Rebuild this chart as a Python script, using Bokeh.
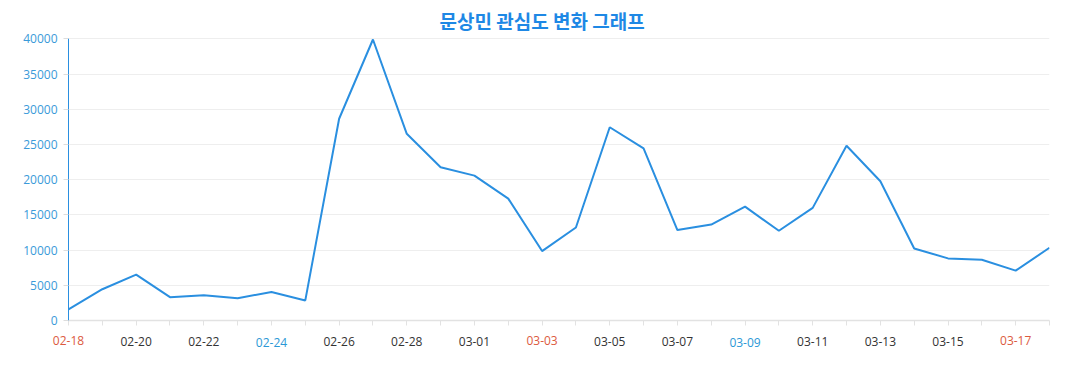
from bokeh.plotting import figure
from bokeh.models import Range1d, FixedTicker, NumeralTickFormatter, LinearAxis, Label
from bokeh.embed import file_html
from bokeh.resources import INLINE

title_text = "문상민 관심도 변화 그래프"
dates = ["02-18", "02-19", "02-20", "02-21", "02-22", "02-23", "02-24", "02-25",
         "02-26", "02-27", "02-28", "02-29", "03-01", "03-02", "03-03", "03-04",
         "03-05", "03-06", "03-07", "03-08", "03-09", "03-10", "03-11", "03-12",
         "03-13", "03-14", "03-15", "03-16", "03-17", "03-18"]
values = [1580, 4440, 6520, 3310, 3600, 3170, 4060, 2850,
          28650, 39900, 26510, 21750, 20570, 17300, 9860, 13210,
          27440, 24430, 12840, 13630, 16170, 12740, 15990, 24820,
          19780, 10230, 8820, 8630, 7080, 10330]
red_dates = ["02-18", "03-03", "03-17"]
blue_dates = ["02-24", "03-09"]
y_ticks = [0, 5000, 10000, 15000, 20000, 25000, 30000, 35000, 40000]

FONT = "Open Sans"
LINE_COLOR = "#2a8fe0"
RED = "#dc5a3e"
BLUE = "#2b98d6"
DARK = "#333333"

idx = list(range(len(dates)))
shown = [d for i, d in enumerate(dates) if i % 2 == 0]

# layout (pixels): frame 4..320; value 40000 at 38.3, value 0 at frame bottom
Y_MAX = y_ticks[-1]
FRAME_TOP, FRAME_BOTTOM, PX_TOP = 4, 320, 38.3
y_high = Y_MAX * (FRAME_BOTTOM - FRAME_TOP) / (FRAME_BOTTOM - PX_TOP)

p = figure(width=1077, height=390, output_backend="svg", toolbar_location=None,
           x_range=Range1d(0, len(dates) - 1), y_range=Range1d(0, y_high),
           min_border_left=68, min_border_right=28, min_border_top=FRAME_TOP,
           min_border_bottom=390 - FRAME_BOTTOM)
p.outline_line_color = None
p.background_fill_color = "white"
p.border_fill_color = "white"

p.line(idx, values, line_color=LINE_COLOR, line_width=2)

# title
p.add_layout(Label(x=14.0, y=Y_MAX, y_offset=PX_TOP - 20, text=title_text,
                   text_align="center", text_baseline="middle",
                   text_font="Noto Sans CJK KR", text_font_style="bold",
                   text_font_size="19px", text_color="#1e88e5"))


def style_labels(ax, color, keep):
    ax.ticker = FixedTicker(ticks=idx)
    ax.major_label_overrides = {i: (d if d in keep else "") for i, d in zip(idx, dates)}
    ax.minor_tick_line_color = None
    ax.major_label_text_color = color
    ax.major_label_text_font = FONT
    ax.major_label_text_font_size = "12px"


# main x axis: line, ticks and red labels
xa = p.xaxis[0]
style_labels(xa, RED, red_dates)
xa.axis_line_color = "#e2e2e2"
xa.axis_line_width = 1.5
xa.major_tick_line_color = "#e2e2e2"
xa.major_tick_out = 5
xa.major_tick_in = 0
xa.major_label_standoff = 10

# extra label rows pulled up onto the same line (dark and blue labels)
rows = ((DARK, [d for d in shown if d not in red_dates and d not in blue_dates], -11),
        (BLUE, blue_dates, -11))
for color, keep, standoff in rows:
    ax = LinearAxis()
    style_labels(ax, color, keep)
    ax.axis_line_color = None
    ax.major_tick_line_color = None
    ax.major_tick_out = 0
    ax.major_tick_in = 0
    ax.major_label_standoff = standoff
    p.add_layout(ax, "below")

# y axis
p.yaxis.bounds = (0, Y_MAX)
p.yaxis.ticker = FixedTicker(ticks=y_ticks)
p.yaxis.formatter = NumeralTickFormatter(format="0")
p.yaxis.axis_line_color = LINE_COLOR
p.yaxis.axis_line_width = 1
p.yaxis.major_tick_line_color = "#dddddd"
p.yaxis.major_tick_out = 5
p.yaxis.major_tick_in = 0
p.yaxis.minor_tick_line_color = None
p.yaxis.major_label_text_color = "#3a9ad9"
p.yaxis.major_label_text_font = FONT
p.yaxis.major_label_text_font_size = "12px"
p.yaxis.major_label_standoff = 6

p.xgrid.visible = False
p.ygrid.ticker = FixedTicker(ticks=y_ticks)
p.ygrid.grid_line_color = "#eeeeee"

open("out.html", "w").write(file_html(p, INLINE))
